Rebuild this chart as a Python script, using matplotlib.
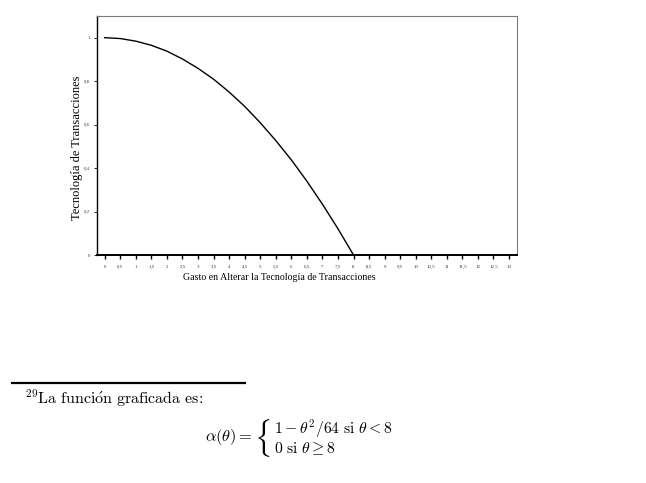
import matplotlib
matplotlib.use("Agg")
import matplotlib.pyplot as plt

# data
gasto = [0, 0.5, 1, 1.5, 2, 2.5, 3, 3.5, 4, 4.5, 5, 5.5, 6, 6.5, 7, 7.5, 8,
         8.5, 9, 9.5, 10, 10.5, 11, 11.5, 12, 12.5, 13]
tecnologia = [1.0, 0.996, 0.984, 0.965, 0.938, 0.902, 0.859, 0.809, 0.75,
              0.684, 0.609, 0.527, 0.438, 0.34, 0.234, 0.121, 0.0,
              0, 0, 0, 0, 0, 0, 0, 0, 0, 0]
x_ticks = [i * 0.5 for i in range(27)]
x_labels = ["0", "0,5", "1", "1,5", "2", "2,5", "3", "3,5", "4", "4,5", "5",
            "5,5", "6", "6,5", "7", "7,5", "8", "8,5", "9", "9,5", "10",
            "10,5", "11", "11,5", "12", "12,5", "13"]
y_ticks = [0, 0.2, 0.4, 0.6, 0.8, 1]
y_labels = ["0", "0,2", "0,4", "0,6", "0,8", "1"]

plt.rcParams["mathtext.fontset"] = "cm"
serif = ["Liberation Serif", "DejaVu Serif"]
W, H = 646, 483


def px(x, y):
    # pixel coords (top-left origin) -> figure fraction
    return x / W, 1 - y / H


fig = plt.figure(figsize=(6.46, 4.83), dpi=100)
ax = fig.add_axes([0.150, 0.472, 0.650, 0.495])

ax.plot(gasto, tecnologia, color="black", lw=1.0)
ax.set_xlim(-0.25, 13.25)
ax.set_ylim(0, 1.1)

ax.set_xticks(x_ticks)
ax.set_xticklabels(x_labels, fontsize=3.5, family=serif, color="#333333")
ax.set_yticks(y_ticks)
ax.set_yticklabels(y_labels, fontsize=3.5, family=serif, color="#333333")
ax.tick_params(axis="x", length=3, width=1, pad=4, color="black")
ax.tick_params(axis="y", length=2, width=0.6, pad=3, color="black")

ax.spines["bottom"].set_linewidth(1.4)
ax.spines["left"].set_linewidth(1.0)
for s in ["top", "right"]:
    ax.spines[s].set_color("#7a7a7a")
    ax.spines[s].set_linewidth(0.8)

# axis titles, placed where the reference has them
fig.text(*px(279, 277), "Gasto en Alterar la Tecnología de Transacciones",
         fontsize=7.1, family=serif, ha="center", va="center")
fig.text(*px(77, 148), "Tecnología de Transacciones", fontsize=9,
         family=serif, ha="center", va="center", rotation=90)

# footnote
fig.add_artist(plt.Line2D([12 / W, 245 / W], [1 - 383 / H, 1 - 383 / H],
                          color="black", lw=1.6))
fig.text(*px(25, 398),
         r"$^{29}\mathrm{La\ funci\acute{o}n\ graficada\ es\!:}$",
         fontsize=11.5, va="center", ha="left")
fig.text(*px(205, 437), r"$\alpha(\theta) =$",
         fontsize=11.8, va="center", ha="left")
fig.text(*px(254, 438), r"$\{$", fontsize=22, va="center", ha="left")
fig.text(*px(274, 429), r"$1-\theta^2/64\ \mathrm{si}\ \theta<8$",
         fontsize=11.3, va="center", ha="left")
fig.text(*px(274, 448), r"$0\ \mathrm{si}\ \theta\geq8$",
         fontsize=11.3, va="center", ha="left")

fig.savefig("out.png", dpi=100)
